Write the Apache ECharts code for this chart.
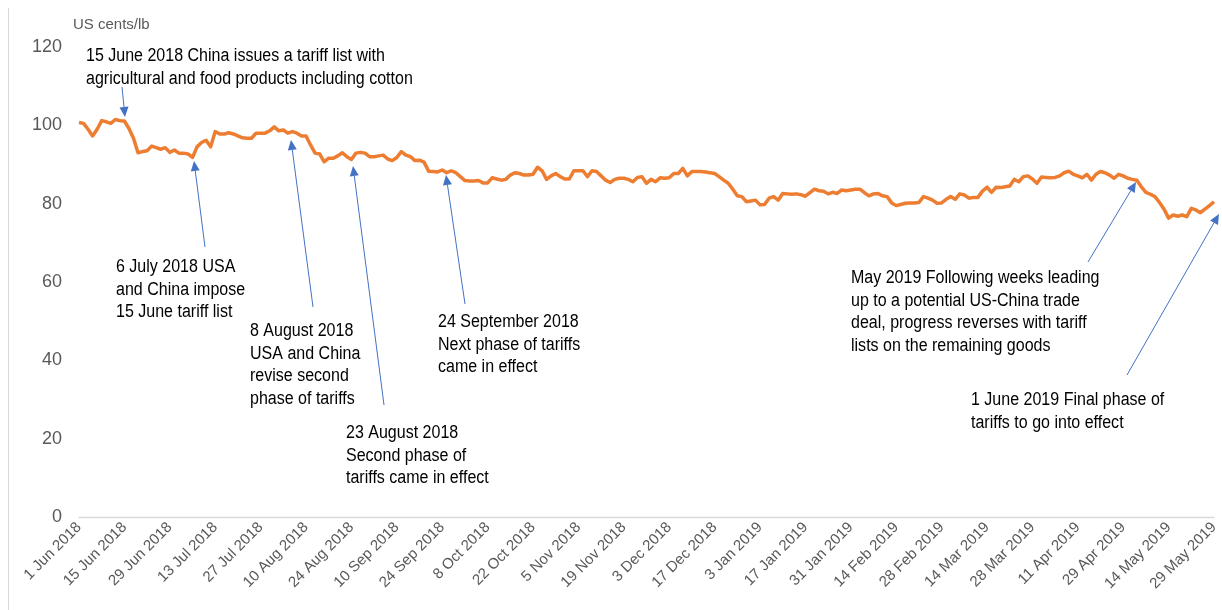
<!DOCTYPE html>
<html><head><meta charset="utf-8">
<script src="https://cdn.jsdelivr.net/npm/echarts@6/dist/echarts.min.js"></script>
<style>html,body{margin:0;padding:0;background:#fff}#c{width:1222px;height:610px}</style>
</head><body><div id="c"></div>
<script>
// ---- data ----
const startDate = '2018-06-01';
const pointCount = 251;
const ukHolidays = ['2018-08-27','2018-12-25','2018-12-26','2019-01-01','2019-04-19','2019-04-22','2019-05-06','2019-05-27'];
const monthNames = ['Jan','Feb','Mar','Apr','May','Jun','Jul','Aug','Sep','Oct','Nov','Dec'];
const yAxisTicks = [0, 20, 40, 60, 80, 100, 120];
const unitLabel = 'US cents/lb';

const priceJunSep2018 = [100.7,100.5,99.0,97.3,99.0,101.2,100.9,100.5,101.5,101.2,101.1,99.2,96.7,93.0,93.3,93.5,94.7,94.3,93.9,94.3,93.1,93.7,92.9,92.9,92.7,91.8,94.5,95.6,96.2,94.5,98.4,97.8,97.8,98.1,97.8,97.3,96.8,96.7,96.7,98.0,98.0,98.0,98.6,99.6,98.6,98.8,98.0,98.4,98.0,97.3,97.3,95.0,92.9,92.7,90.7,91.6,91.6,92.2,93.0,92.0,91.3,92.9,93.1];
const priceSepNov2018 = [92.9,92.0,92.0,92.2,92.4,91.4,91.0,91.8,93.3,92.4,92.0,91.0,91.1,90.6,88.3,88.2,88.1,88.6,87.9,88.4,87.9,86.9,85.9,85.8,85.8,85.9,85.3,85.3,86.6,86.3,86.0,86.2,87.3,87.9,87.7,87.3,87.3,87.5,89.3,88.4,86.2,87.1,87.7,86.9,86.3,86.3,88.4,88.4,88.4,86.9,88.4,88.2,87.1,86.0,85.4,86.2,86.5,86.5,86.2,85.6,86.7,86.9];
const priceNov2018Feb2019 = [85.2,86.2,85.6,86.6,86.5,86.6,87.7,87.7,89.0,87.1,88.2,88.2,88.2,88.1,87.9,87.7,86.9,86.0,85.2,83.7,82.0,81.8,80.5,80.7,80.9,79.7,79.8,81.4,81.8,80.9,82.6,82.5,82.4,82.5,82.3,81.9,82.8,83.7,83.3,83.2,82.5,82.9,82.6,83.5,83.3,83.5,83.7,83.7,82.8,82.0,82.5,82.6,82.0,81.8,80.2,79.5,79.8,80.1,80.2,80.2,80.3,81.8,81.4];
const priceFebMay2019 = [80.9,80.1,80.2,81.1,81.8,81.1,82.5,82.2,81.4,81.6,81.6,83.2,84.2,82.9,84.2,84.1,84.3,84.5,86.2,85.6,86.9,87.1,86.3,85.2,86.8,86.7,86.6,86.7,87.1,87.9,88.3,87.5,87.1,86.6,87.5,86.0,87.5,88.2,87.9,87.3,86.5,87.5,87.1,86.5,86.2,86.0,84.3,82.9,82.4,81.8,80.3,78.6,76.3,77.1,76.8,77.1,76.7,78.8,78.4,77.7,78.6,79.5,80.5];

const annotations = [
  {lines:['15 June 2018 China issues a tariff list with','agricultural and food products including cotton'], x:86, y:45, tail:[122,87], tip:[125,117]},
  {lines:['6 July 2018 USA','and China impose','15 June tariff list'], x:116, y:256, tail:[205,247], tip:[194,161]},
  {lines:['8 August 2018','USA and China','revise second','phase of tariffs'], x:250, y:320, tail:[313,307], tip:[291,140]},
  {lines:['23 August 2018','Second phase of','tariffs came in effect'], x:346, y:422, tail:[384,405], tip:[353,166]},
  {lines:['24 September 2018','Next phase of tariffs','came in effect'], x:438, y:311, tail:[465,304], tip:[446,175]},
  {lines:['May 2019 Following weeks leading','up to a potential US-China trade','deal, progress reverses with tariff','lists on the remaining goods'], x:851, y:267, tail:[1088,262], tip:[1136,182]},
  {lines:['1 June 2019 Final phase of','tariffs to go into effect'], x:971, y:389, tail:[1127,375], tip:[1219,214]}
];

// ---- build ----
function tradingDays(start, n, holidays) {
  const out = [];
  let d = new Date(start + 'T00:00:00Z');
  while (out.length < n) {
    const dow = d.getUTCDay();
    const iso = d.toISOString().slice(0, 10);
    if (dow !== 0 && dow !== 6 && holidays.indexOf(iso) < 0) {
      out.push(d.getUTCDate() + ' ' + monthNames[d.getUTCMonth()] + ' ' + d.getUTCFullYear());
    }
    d = new Date(d.getTime() + 86400000);
  }
  return out;
}
const categories = tradingDays(startDate, pointCount, ukHolidays);
const cottonPrice = [].concat(priceJunSep2018, priceSepNov2018, priceNov2018Feb2019, priceFebMay2019);

const FONT = '"Liberation Sans", Arial, Helvetica, sans-serif';
const ARROW = '#4472C4';
const graphics = [
  {type:'line', shape:{x1:8.5, y1:8, x2:8.5, y2:610}, style:{stroke:'#d9d9d9', lineWidth:1}, silent:true},
  {type:'text', x:73, y:25, style:{text:unitLabel, fontSize:15, fontFamily:FONT, fill:'#595959', verticalAlign:'middle', align:'left'}}
];
annotations.forEach(a => {
  graphics.push({type:'text', x:a.x, y:a.y, scaleX:0.89,
    style:{text:a.lines.join('\n'), fontSize:18, fontFamily:FONT, fill:'#000', lineHeight:22.5, align:'left', verticalAlign:'top'}});
  const dx = a.tip[0]-a.tail[0], dy = a.tip[1]-a.tail[1];
  const len = Math.sqrt(dx*dx+dy*dy), ux = dx/len, uy = dy/len;
  const hl = 10, hw = 4.5;
  const bx = a.tip[0]-ux*hl, by = a.tip[1]-uy*hl;
  graphics.push({type:'line', shape:{x1:a.tail[0], y1:a.tail[1], x2:bx, y2:by}, style:{stroke:ARROW, lineWidth:1}});
  graphics.push({type:'polygon', shape:{points:[[a.tip[0],a.tip[1]],[bx-uy*hw, by+ux*hw],[bx+uy*hw, by-ux*hw]]}, style:{fill:ARROW}});
});

const chart = echarts.init(document.getElementById('c'), null, {renderer:'canvas'});
chart.setOption({
  animation:false,
  backgroundColor:'#fff',
  grid:{left:79, right:8, top:47, bottom:93, containLabel:false},
  xAxis:{type:'category', data:categories, boundaryGap:false,
    axisLine:{lineStyle:{color:'#d9d9d9', width:1.3}}, axisTick:{show:false}, splitLine:{show:false},
    axisLabel:{interval:9, rotate:45, color:'#595959', fontSize:15, fontFamily:FONT, margin:8}},
  yAxis:{type:'value', min:yAxisTicks[0], max:yAxisTicks[yAxisTicks.length-1], interval:yAxisTicks[1]-yAxisTicks[0],
    axisLine:{show:false}, axisTick:{show:false}, splitLine:{show:false},
    axisLabel:{color:'#595959', fontSize:18, fontFamily:FONT, margin:17}},
  series:[{type:'line', data:cottonPrice, symbol:'none', smooth:false,
    lineStyle:{color:'#ED7D31', width:3.5, join:'round'}, itemStyle:{color:'#ED7D31'}}],
  graphic:graphics
});
</script></body></html>
